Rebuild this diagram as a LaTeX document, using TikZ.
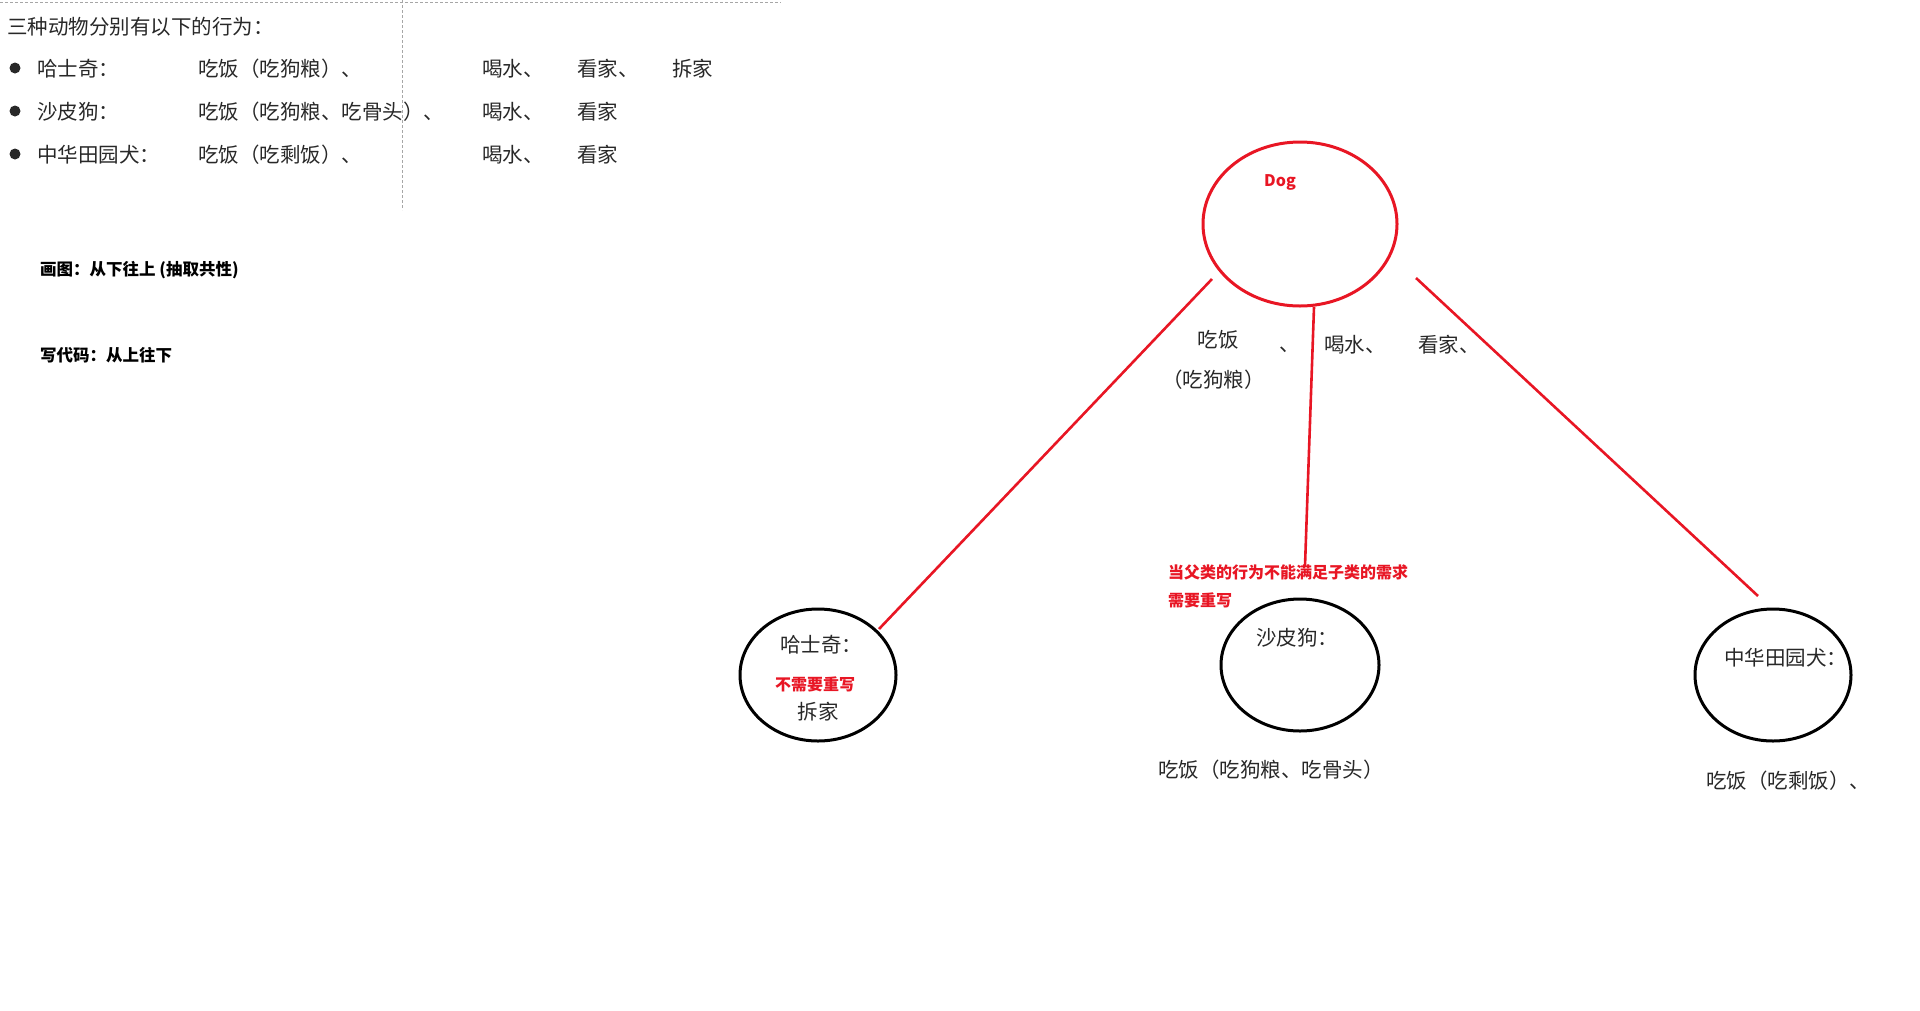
\documentclass[tikz,border=0pt]{standalone}
\usepackage{fontspec}
\setmainfont{Noto Sans CJK SC}
\usetikzlibrary{shapes.geometric}
\definecolor{dred}{RGB}{232,22,36}
\definecolor{ink}{RGB}{40,40,40}
\tikzset{
 txt/.style={anchor=west, inner sep=0pt, yshift=-1.5pt, text=ink, font=\fontsize{20.5}{23}\selectfont},
 ctxt/.style={anchor=center, inner sep=0pt, yshift=-1.5pt, text=ink, font=\fontsize{20.5}{23}\selectfont},
 rnote/.style={anchor=west, inner sep=0pt, text=dred, font=\bfseries\fontsize{16}{18}\selectfont},
 bnote/.style={anchor=west, inner sep=0pt, yshift=-2pt, text=black, font=\bfseries\fontsize{16.5}{18}\selectfont},
 bul/.style={circle, fill=ink, minimum size=11pt, inner sep=0pt},
 redcirc/.style={ellipse, draw=dred, line width=3pt, inner sep=0pt},
 blkcirc/.style={ellipse, draw=black, line width=3pt, inner sep=0pt},
 link/.style={draw=dred, line width=2.6pt},
 guide/.style={draw=gray!70, line width=0.9pt, dash pattern=on 3pt off 2pt}
}
\begin{document}
\begin{tikzpicture}[x=1pt,y=-1pt]
\useasboundingbox (0,0) rectangle (1920,1010);
% guides
\coordinate (g1) at (0,2); \coordinate (g2) at (781,2);
\coordinate (g3) at (402,0); \coordinate (g4) at (402,210);
\draw[guide] (g1) -- (g2);
\draw[guide] (g3) -- (g4);
% heading list
\node[txt] (title) at (7,25) {三种动物分别有以下的行为：};
\node[bul] (b1) at (15,68) {};
\node[bul] (b2) at (15,111) {};
\node[bul] (b3) at (15,154) {};
\node[txt] (r1a) at (37,67) {哈士奇：};
\node[txt] (r1b) at (198,67) {吃饭（吃狗粮）、};
\node[txt] (r1c) at (482,67) {喝水、};
\node[txt] (r1d) at (577,67) {看家、};
\node[txt] (r1e) at (672,67) {拆家};
\node[txt] (r2a) at (37,110) {沙皮狗：};
\node[txt] (r2b) at (198,110) {吃饭（吃狗粮、吃骨头）、};
\node[txt] (r2c) at (482,110) {喝水、};
\node[txt] (r2d) at (577,110) {看家};
\node[txt] (r3a) at (37,153) {中华田园犬：};
\node[txt] (r3b) at (198,153) {吃饭（吃剩饭）、};
\node[txt] (r3c) at (482,153) {喝水、};
\node[txt] (r3d) at (577,153) {看家};
\node[bnote] (n1) at (40,268) {画图：从下往上 (抽取共性)};
\node[bnote] (n2) at (40,353) {写代码：从上往下};
% diagram
\node[redcirc, minimum width=194pt, minimum height=164pt] (dog) at (1300,224) {};
\node[anchor=center, inner sep=0pt, text=dred, font=\bfseries\fontsize{16}{18}\selectfont] (dogl) at (1280,182) {Dog};
\node[blkcirc, minimum width=156pt, minimum height=132pt] (husky) at (818,675) {};
\node[blkcirc, minimum width=158pt, minimum height=132pt] (shapi) at (1300,665) {};
\node[blkcirc, minimum width=156pt, minimum height=132pt] (zh) at (1773,675) {};
% connectors
\coordinate (l1s) at (1212,279); \coordinate (l1e) at (879,629);
\coordinate (l2s) at (1314,307); \coordinate (l2e) at (1305,566);
\coordinate (l3s) at (1416,278); \coordinate (l3e) at (1758,596);
\draw[link] (l1s) -- (l1e);
\draw[link] (l2s) -- (l2e);
\draw[link] (l3s) -- (l3e);
% dog labels
\node[ctxt] (d1) at (1218,338) {吃饭};
\node[txt] (d2) at (1162,378) {（吃狗粮）};
\node[anchor=base west, inner sep=0pt, text=ink, font=\fontsize{20.5}{23}\selectfont] (d3) at (1279,351) {、};
\node[txt] (d4) at (1324,343) {喝水、};
\node[txt] (d5) at (1418,343) {看家、};
% husky
\node[txt] (h1) at (780,643) {哈士奇：};
\node[anchor=center, inner sep=0pt, text=dred, font=\bfseries\fontsize{16}{18}\selectfont] (h2) at (815,684) {不需要重写};
\node[ctxt] (h3) at (818,710) {拆家};
% shapi
\node[txt] (s1) at (1256,636) {沙皮狗：};
\node[rnote] (s2) at (1168,572) {当父类的行为不能满足子类的需求};
\node[rnote] (s3) at (1168,600) {需要重写};
\node[txt] (s4) at (1158,768) {吃饭（吃狗粮、吃骨头）};
% zhonghua
\node[txt] (z1) at (1724,656) {中华田园犬：};
\node[txt] (z2) at (1706,779) {吃饭（吃剩饭）、};
\end{tikzpicture}
\end{document}
